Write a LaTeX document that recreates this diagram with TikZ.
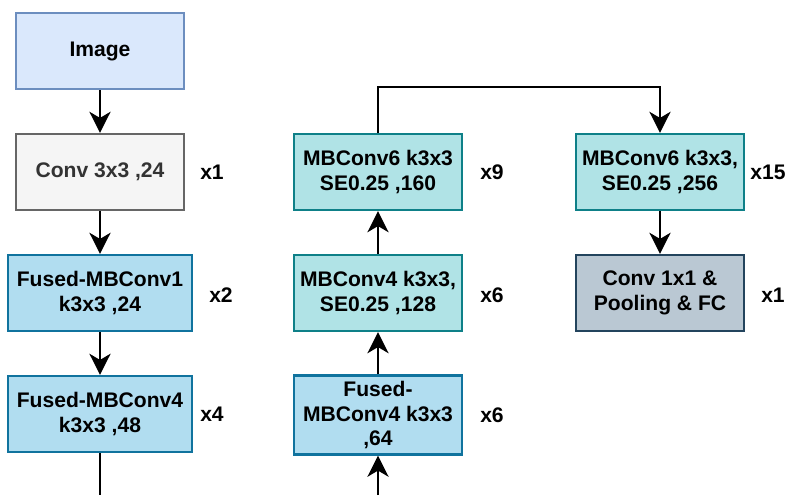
\documentclass[tikz,border=0pt]{standalone}
\usepackage{fontspec}
\setmainfont{Liberation Sans}
\usepackage{tikz}
\usetikzlibrary{arrows.meta}

\definecolor{imgfill}{HTML}{DAE8FC}
\definecolor{imgline}{HTML}{6C8EBF}
\definecolor{convfill}{HTML}{F5F5F5}
\definecolor{convline}{HTML}{666666}
\definecolor{convtext}{HTML}{333333}
\definecolor{fusedfill}{HTML}{B1DDF0}
\definecolor{fusedline}{HTML}{10739E}
\definecolor{mbfill}{HTML}{B0E3E6}
\definecolor{mbline}{HTML}{0E8088}
\definecolor{headfill}{HTML}{BAC8D3}
\definecolor{headline}{HTML}{23445D}

\tikzset{
    block/.style={draw, line width=1.3pt, align=center, inner sep=0pt,
        minimum width=3.36cm, minimum height=1.52cm,
        font=\fontsize{12}{14.2}\selectfont\bfseries},
    wideblock/.style={block, minimum width=3.68cm},
    reps/.style={font=\fontsize{12}{14.2}\selectfont\bfseries},
    flow/.style={line width=1.5pt, -{Stealth[length=12pt, width=12pt, inset=3.5pt]}}
}

\begin{document}
\begin{tikzpicture}[x=0.02cm, y=-0.02cm]
            \useasboundingbox (0,0) rectangle (789,495);

            % first column
            \node[block, fill=imgfill, draw=imgline] (img) at (100,51) {Image};
            \node[block, fill=convfill, draw=convline, text=convtext] (stem) at (100,172) {Conv 3x3 ,24};
            \node[wideblock, fill=fusedfill, draw=fusedline] (fmb1) at (100,293) {Fused-MBConv1\\k3x3 ,24};
            \node[wideblock, fill=fusedfill, draw=fusedline] (fmb4) at (100,414) {Fused-MBConv4\\k3x3 ,48};
            \coordinate (down) at (100,495);

            % second column, goes upwards
            \coordinate (up) at (378,495);
            \node[block, fill=fusedfill, draw=fusedline, minimum height=1.58cm] (fmb4b) at (378,415) {Fused-\\MBConv4 k3x3\\,64};
            \node[block, fill=mbfill, draw=mbline] (mb4) at (378,293) {MBConv4 k3x3,\\SE0.25 ,128};
            \node[block, fill=mbfill, draw=mbline] (mb6a) at (378,172) {MBConv6 k3x3\\SE0.25 ,160};

            % last column
            \node[block, fill=mbfill, draw=mbline] (mb6b) at (660,172) {MBConv6 k3x3,\\SE0.25 ,256};
            \node[block, fill=headfill, draw=headline] (head) at (660,293) {Conv 1x1 \&\\Pooling \& FC};

            % repeat counts
            \node[reps] (r1) at (212,172) {x1};
            \node[reps] (r2) at (221,295) {x2};
            \node[reps] (r3) at (212,414) {x4};
            \node[reps] (r4) at (492,172) {x9};
            \node[reps] (r5) at (492,295) {x6};
            \node[reps] (r6) at (492,415) {x6};
            \node[reps] (r7) at (768,172) {x15};
            \node[reps] (r8) at (773,295) {x1};

            % connections
            \draw[flow] (img) -- (stem);
            \draw[flow] (stem) -- (fmb1);
            \draw[flow] (fmb1) -- (fmb4);
            \draw[line width=1.5pt] (fmb4) -- (down);
            \draw[flow] (up) -- (fmb4b);
            \draw[flow] (fmb4b) -- (mb4);
            \draw[flow] (mb4) -- (mb6a);
            \draw[flow] (mb6a.north) -- ++(0,-46) -| (mb6b.north);
            \draw[flow] (mb6b) -- (head);
        \end{tikzpicture}
\end{document}
